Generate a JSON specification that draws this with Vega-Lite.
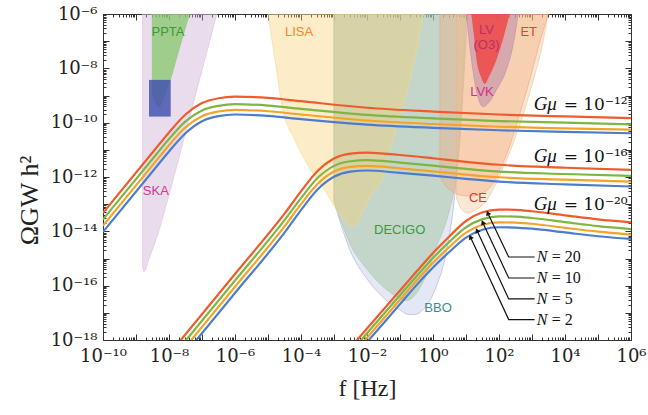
{
"$schema": "https://vega.github.io/schema/vega-lite/v6.json",
"width": 528, "height": 326, "autosize": "none",
"padding": {"left": 103, "top": 14, "right": 17, "bottom": 75},
"config": {"view": {"stroke": "#333", "strokeWidth": 1}, "axis": {"domain": false, "grid": false, "tickColor": "#333", "labelFont": "DejaVu Serif", "titleFont": "Liberation Serif", "titleFontWeight": "normal", "labelColor": "#222", "titleColor": "#222"}},
"datasets": {
"strings": [
{"g":"a","f":1e-10,"n20":4.786e-14,"n10":2.754e-14,"n5":1.622e-14,"n2":9.550e-15},
{"g":"a","f":3.162e-9,"n20":7.943e-12,"n10":4.571e-12,"n5":2.692e-12,"n2":1.585e-12},
{"g":"a","f":1e-8,"n20":4.365e-11,"n10":2.512e-11,"n5":1.479e-11,"n2":8.710e-12},
{"g":"a","f":3.162e-8,"n20":1.995e-10,"n10":1.122e-10,"n5":6.761e-11,"n2":4.074e-11},
{"g":"a","f":1e-7,"n20":5.248e-10,"n10":2.818e-10,"n5":1.738e-10,"n2":1.122e-10},
{"g":"a","f":3.162e-7,"n20":7.943e-10,"n10":4.169e-10,"n5":2.570e-10,"n2":1.738e-10},
{"g":"a","f":1e-6,"n20":9.120e-10,"n10":4.786e-10,"n5":2.951e-10,"n2":1.995e-10},
{"g":"a","f":1e-5,"n20":8.128e-10,"n10":4.266e-10,"n5":2.630e-10,"n2":1.778e-10},
{"g":"a","f":1e-4,"n20":6.166e-10,"n10":3.236e-10,"n5":1.995e-10,"n2":1.349e-10},
{"g":"a","f":1e-2,"n20":3.548e-10,"n10":1.950e-10,"n5":1.202e-10,"n2":8.511e-11},
{"g":"a","f":1,"n20":2.570e-10,"n10":1.445e-10,"n5":8.913e-11,"n2":6.457e-11},
{"g":"a","f":100,"n20":1.995e-10,"n10":1.148e-10,"n5":7.079e-11,"n2":5.248e-11},
{"g":"a","f":1e4,"n20":1.698e-10,"n10":1.000e-10,"n5":6.166e-11,"n2":4.571e-11},
{"g":"a","f":1e6,"n20":1.479e-10,"n10":8.710e-11,"n5":5.495e-11,"n2":4.074e-11},
{"g":"b","f":1e-8,"n20":2.951e-19,"n10":1.698e-19,"n5":1.0e-19,"n2":5.888e-20},
{"g":"b","f":1e-6,"n20":2.692e-16,"n10":1.549e-16,"n5":9.120e-17,"n2":5.370e-17},
{"g":"b","f":3.162e-5,"n20":4.467e-14,"n10":2.570e-14,"n5":1.514e-14,"n2":8.913e-15},
{"g":"b","f":1e-4,"n20":2.951e-13,"n10":1.660e-13,"n5":1.0e-13,"n2":6.026e-14},
{"g":"b","f":3.162e-4,"n20":1.660e-12,"n10":9.12e-13,"n5":5.495e-13,"n2":3.467e-13},
{"g":"b","f":1e-3,"n20":4.786e-12,"n10":2.570e-12,"n5":1.585e-12,"n2":1.023e-12},
{"g":"b","f":3.162e-3,"n20":7.244e-12,"n10":3.802e-12,"n5":2.344e-12,"n2":1.585e-12},
{"g":"b","f":1e-2,"n20":7.943e-12,"n10":4.169e-12,"n5":2.570e-12,"n2":1.738e-12},
{"g":"b","f":0.1,"n20":6.457e-12,"n10":3.388e-12,"n5":2.089e-12,"n2":1.413e-12},
{"g":"b","f":1,"n20":4.898e-12,"n10":2.630e-12,"n5":1.622e-12,"n2":1.122e-12},
{"g":"b","f":10,"n20":3.631e-12,"n10":1.995e-12,"n5":1.230e-12,"n2":8.511e-13},
{"g":"b","f":100,"n20":2.818e-12,"n10":1.585e-12,"n5":9.772e-13,"n2":6.761e-13},
{"g":"b","f":1e4,"n20":2.188e-12,"n10":1.288e-12,"n5":7.943e-13,"n2":5.370e-13},
{"g":"b","f":1e6,"n20":1.820e-12,"n10":1.096e-12,"n5":6.761e-13,"n2":4.467e-13},
{"g":"c","f":1e-3,"n20":1.047e-19,"n10":7.079e-20,"n5":4.786e-20,"n2":3.311e-20},
{"g":"c","f":1e-2,"n20":2.630e-18,"n10":1.778e-18,"n5":1.202e-18,"n2":8.318e-19},
{"g":"c","f":0.1,"n20":6.607e-17,"n10":4.467e-17,"n5":3.020e-17,"n2":2.089e-17},
{"g":"c","f":0.3162,"n20":3.311e-16,"n10":2.239e-16,"n5":1.514e-16,"n2":1.047e-16},
{"g":"c","f":1,"n20":1.585e-15,"n10":1.047e-15,"n5":6.918e-16,"n2":4.677e-16},
{"g":"c","f":3.162,"n20":6.607e-15,"n10":4.169e-15,"n5":2.692e-15,"n2":1.778e-15},
{"g":"c","f":10,"n20":2.399e-14,"n10":1.413e-14,"n5":8.913e-15,"n2":5.888e-15},
{"g":"c","f":31.62,"n20":5.012e-14,"n10":2.818e-14,"n5":1.738e-14,"n2":1.148e-14},
{"g":"c","f":100,"n20":6.310e-14,"n10":3.548e-14,"n5":2.138e-14,"n2":1.413e-14},
{"g":"c","f":316.2,"n20":6.166e-14,"n10":3.467e-14,"n5":2.089e-14,"n2":1.380e-14},
{"g":"c","f":1000,"n20":5.495e-14,"n10":3.090e-14,"n5":1.905e-14,"n2":1.259e-14},
{"g":"c","f":1e4,"n20":3.890e-14,"n10":2.188e-14,"n5":1.349e-14,"n2":9.120e-15},
{"g":"c","f":1e5,"n20":2.754e-14,"n10":1.549e-14,"n5":9.772e-15,"n2":6.607e-15},
{"g":"c","f":1e6,"n20":2.138e-14,"n10":1.202e-14,"n5":7.586e-15,"n2":5.248e-15}
],
"regions": [
{"r":"SKA","f":1.585e-9,"lo":5.012e-16},{"r":"SKA","f":1.738e-9,"lo":3.311e-16},{"r":"SKA","f":1.995e-9,"lo":4.467e-16},{"r":"SKA","f":2.512e-9,"lo":1e-15},{"r":"SKA","f":3.548e-9,"lo":3.162e-15},{"r":"SKA","f":5.012e-9,"lo":1.122e-14},{"r":"SKA","f":9.120e-9,"lo":1.445e-13},{"r":"SKA","f":3.162e-8,"lo":4.266e-11},{"r":"SKA","f":1e-7,"lo":8.511e-9},{"r":"SKA","f":2.818e-7,"lo":1e-6},
{"r":"PPTA","f":3.020e-9,"lo":1.259e-9},{"r":"PPTA","f":3.548e-9,"lo":7.079e-10},{"r":"PPTA","f":4.169e-9,"lo":4.467e-10},{"r":"PPTA","f":5.129e-9,"lo":3.802e-10},{"r":"PPTA","f":6.310e-9,"lo":5.623e-10},{"r":"PPTA","f":7.943e-9,"lo":1.122e-9},{"r":"PPTA","f":1.122e-8,"lo":3.715e-9},{"r":"PPTA","f":2.239e-8,"lo":6.761e-8},{"r":"PPTA","f":4.266e-8,"lo":1e-6},
{"r":"LISA","f":1e-5,"lo":1e-6},{"r":"LISA","f":1.585e-5,"lo":2.512e-8},{"r":"LISA","f":2.818e-5,"lo":2.951e-10},{"r":"LISA","f":6.310e-5,"lo":2.512e-11},{"r":"LISA","f":1.288e-4,"lo":4.266e-12},{"r":"LISA","f":3.162e-4,"lo":7.943e-13},{"r":"LISA","f":5.888e-4,"lo":2.570e-13},{"r":"LISA","f":1.479e-3,"lo":4.074e-14},{"r":"LISA","f":2.239e-3,"lo":2.239e-14},{"r":"LISA","f":3.162e-3,"lo":1.585e-14},{"r":"LISA","f":5.012e-3,"lo":1.995e-14},{"r":"LISA","f":7.586e-3,"lo":5.623e-14},{"r":"LISA","f":1.259e-2,"lo":1.905e-13},{"r":"LISA","f":3.020e-2,"lo":1.047e-12},{"r":"LISA","f":6.310e-2,"lo":3.162e-11},{"r":"LISA","f":0.1549,"lo":1.202e-9},{"r":"LISA","f":0.3162,"lo":5.012e-8},{"r":"LISA","f":0.5012,"lo":7.943e-7},{"r":"LISA","f":0.537,"lo":1e-6},
{"r":"BBO","f":1e-3,"lo":1.259e-13},{"r":"BBO","f":1.778e-3,"lo":1.259e-14},{"r":"BBO","f":3.020e-3,"lo":2.089e-15},{"r":"BBO","f":1e-2,"lo":1.778e-16},{"r":"BBO","f":4.898e-2,"lo":2.291e-17},{"r":"BBO","f":0.1,"lo":1.259e-17},{"r":"BBO","f":0.195,"lo":8.511e-18},{"r":"BBO","f":0.3162,"lo":8.913e-18},{"r":"BBO","f":0.5012,"lo":1.318e-17},{"r":"BBO","f":1.259,"lo":9.333e-17},{"r":"BBO","f":2.512,"lo":1.585e-15},{"r":"BBO","f":3.981,"lo":5.012e-14},{"r":"BBO","f":5.623,"lo":3.162e-12},{"r":"BBO","f":7.943,"lo":1e-9},{"r":"BBO","f":11.22,"lo":1e-6},
{"r":"DECIGO","f":1e-3,"lo":1.445e-13},{"r":"DECIGO","f":1.778e-3,"lo":1.778e-14},{"r":"DECIGO","f":3.020e-3,"lo":3.631e-15},{"r":"DECIGO","f":1e-2,"lo":3.981e-16},{"r":"DECIGO","f":3.020e-2,"lo":9.333e-17},{"r":"DECIGO","f":7.943e-2,"lo":3.981e-17},{"r":"DECIGO","f":0.1549,"lo":2.818e-17},{"r":"DECIGO","f":0.2818,"lo":4.467e-17},{"r":"DECIGO","f":0.631,"lo":2.512e-16},{"r":"DECIGO","f":1.259,"lo":2.512e-15},{"r":"DECIGO","f":3.162,"lo":6.310e-14},{"r":"DECIGO","f":5.012,"lo":1e-12},{"r":"DECIGO","f":7.079,"lo":1e-10},{"r":"DECIGO","f":10,"lo":1e-6},
{"r":"CE","f":5.2,"lo":1.585e-13},{"r":"CE","f":7.0,"lo":7.079e-14},{"r":"CE","f":11.22,"lo":4.786e-14},{"r":"CE","f":20,"lo":6.310e-14},{"r":"CE","f":40,"lo":1.259e-13},{"r":"CE","f":100,"lo":1e-12},{"r":"CE","f":300,"lo":2.512e-11},{"r":"CE","f":1000,"lo":2.512e-9},{"r":"CE","f":2500,"lo":2.512e-7},{"r":"CE","f":3000,"lo":1e-6},
{"r":"ET","f":1.62,"lo":1e-12},{"r":"ET","f":2.5,"lo":4.467e-13},{"r":"ET","f":4.0,"lo":2.818e-13},{"r":"ET","f":8.0,"lo":2.089e-13},{"r":"ET","f":15,"lo":1.995e-13},{"r":"ET","f":30,"lo":2.512e-13},{"r":"ET","f":52.48,"lo":3.981e-13},{"r":"ET","f":100,"lo":1.585e-12},{"r":"ET","f":208.9,"lo":1.318e-11},{"r":"ET","f":398.1,"lo":1.585e-10},{"r":"ET","f":851.1,"lo":3.715e-9},{"r":"ET","f":1585,"lo":6.310e-8},{"r":"ET","f":3090,"lo":1e-6},
{"r":"LVK","f":10.23,"lo":1e-6},{"r":"LVK","f":15.85,"lo":1e-8},{"r":"LVK","f":22.39,"lo":1e-9},{"r":"LVK","f":33.11,"lo":3.890e-10},{"r":"LVK","f":50.12,"lo":5.623e-10},{"r":"LVK","f":83.18,"lo":1.585e-9},{"r":"LVK","f":166,"lo":8.710e-9},{"r":"LVK","f":281.8,"lo":1e-7},{"r":"LVK","f":380.2,"lo":1e-6},
{"r":"LV","f":14.45,"lo":1e-6},{"r":"LV","f":17.78,"lo":1.259e-7},{"r":"LV","f":20.89,"lo":2.042e-8},{"r":"LV","f":28.18,"lo":5.012e-9},{"r":"LV","f":37.15,"lo":2.692e-9},{"r":"LV","f":50.12,"lo":5.012e-9},{"r":"LV","f":83.18,"lo":2.042e-8},{"r":"LV","f":141.3,"lo":1.585e-7},{"r":"LV","f":208.9,"lo":1e-6}
],
"box": [{"f1":2.477e-9,"f2":1.127e-8,"o1":1.675e-10,"o2":3.75e-9}],
"arrows": [
{"N":"20","f":1202,"o":1.135e-15},{"N":"20","f":196.8,"o":1.135e-15},{"N":"20","f":45.5,"o":4.71e-14},
{"N":"10","f":1202,"o":1.919e-16},{"N":"10","f":196.8,"o":1.919e-16},{"N":"10","f":32.1,"o":2.12e-14},
{"N":"5","f":1202,"o":3.243e-17},{"N":"5","f":196.8,"o":3.243e-17},{"N":"5","f":21.5,"o":1.079e-14},
{"N":"2","f":1202,"o":5.623e-18},{"N":"2","f":196.8,"o":5.623e-18},{"N":"2","f":13.6,"o":6.166e-15}
],
"tips": [{"f":45.5,"o":4.71e-14},{"f":32.1,"o":2.12e-14},{"f":21.5,"o":1.079e-14},{"f":13.6,"o":6.166e-15}],
"nlabels": [{"k":"= 20","f":1400,"o":1.135e-15},{"k":"= 10","f":1400,"o":1.919e-16},{"k":"= 5","f":1400,"o":3.243e-17},{"k":"= 2","f":1400,"o":5.623e-18}],
"glabels": [{"k":"= 10⁻¹²","f":1122,"o":2.95e-10},{"k":"= 10⁻¹⁶","f":1122,"o":3.72e-12},{"k":"= 10⁻²⁰","f":1122,"o":6.17e-14}],
"rlabels": [
{"t":"PPTA","f":9.33e-9,"o":2.24e-7},{"t":"SKA","f":3.98e-9,"o":2.95e-13},{"t":"LISA","f":8.7e-5,"o":2.24e-7},{"t":"LV","f":41.7,"o":2.6e-7},{"t":"(O3)","f":41.7,"o":7.0e-8},{"t":"ET","f":794,"o":2.24e-7},{"t":"LVK","f":30.5,"o":1.39e-9},{"t":"CE","f":23.1,"o":1.66e-13},{"t":"DECIGO","f":0.0977,"o":1.148e-14},{"t":"BBO","f":1.42,"o":1.51e-17}
]
},
"layer": [
{"data": {"name": "regions"}, "transform": [{"filter": "datum.r === 'SKA'"}],
 "mark": {"type": "area", "fill": "#c9a8d3", "fillOpacity": 0.4, "stroke": "#d8bfe0", "strokeWidth": 0.6, "clip": true, "interpolate": "monotone"},
 "encoding": {
  "x": {"field": "f", "type": "quantitative", "scale": {"type": "log", "domain": [1e-10, 1e6], "nice": false},
   "axis": {"orient": "bottom", "values": [1e-10, 1e-8, 1e-6, 1e-4, 1e-2, 1, 100, 1e4, 1e6], "ticks": false, "labelPadding": 7, "labelFontSize": 18, "labelFlush": false, "labelOverlap": false, "title": "f [Hz]", "titleFontSize": 24, "titlePadding": 11,
    "labelExpr": "'10' + replace(replace(replace(replace(replace(replace(replace(replace(replace(replace(replace('' + round(log(datum.value)/LN10), '-', '⁻'), regexp('0','g'), '⁰'), regexp('1','g'), '¹'), regexp('2','g'), '²'), regexp('3','g'), '³'), regexp('4','g'), '⁴'), regexp('5','g'), '⁵'), regexp('6','g'), '⁶'), regexp('7','g'), '⁷'), regexp('8','g'), '⁸'), regexp('9','g'), '⁹')"}},
  "y": {"field": "lo", "type": "quantitative", "scale": {"type": "log", "domain": [1e-18, 1e-6], "nice": false},
   "axis": {"orient": "left", "values": [1e-18, 1e-16, 1e-14, 1e-12, 1e-10, 1e-8, 1e-6], "ticks": false, "labelPadding": 6, "labelFontSize": 18, "labelFlush": false, "labelOverlap": false, "title": "ΩGW h²", "titleFontSize": 26, "titleX": -74, "titleY": 186, "titleAngle": -90, "titleAlign": "center", "titleBaseline": "middle",
    "labelExpr": "'10' + replace(replace(replace(replace(replace(replace(replace(replace(replace(replace(replace('' + round(log(datum.value)/LN10), '-', '⁻'), regexp('0','g'), '⁰'), regexp('1','g'), '¹'), regexp('2','g'), '²'), regexp('3','g'), '³'), regexp('4','g'), '⁴'), regexp('5','g'), '⁵'), regexp('6','g'), '⁶'), regexp('7','g'), '⁷'), regexp('8','g'), '⁸'), regexp('9','g'), '⁹')"}},
  "y2": {"datum": 1e-6}}},
{"data": {"name": "regions"}, "transform": [{"filter": "datum.r === 'PPTA'"}],
 "mark": {"type": "area", "fill": "#86c86a", "fillOpacity": 0.75, "clip": true, "interpolate": "monotone"},
 "encoding": {
  "x": {"field": "f", "type": "quantitative", "scale": {"type": "log", "domain": [1e-10, 1e6], "nice": false},
   "axis": {"orient": "bottom", "values": [1e-10,1e-9,1e-8,1e-7,1e-6,1e-5,1e-4,1e-3,1e-2,1e-1,1,10,100,1e3,1e4,1e5,1e6], "labels": false, "tickSize": -6, "title": null}},
  "y": {"field": "lo", "type": "quantitative", "scale": {"type": "log", "domain": [1e-18, 1e-6], "nice": false},
   "axis": {"orient": "left", "values": [1e-18,1e-17,1e-16,1e-15,1e-14,1e-13,1e-12,1e-11,1e-10,1e-9,1e-8,1e-7,1e-6], "labels": false, "tickSize": -6, "title": null}},
  "y2": {"datum": 1e-6}}},
{"data": {"name": "box"},
 "mark": {"type": "rect", "fill": "#3f4fb0", "fillOpacity": 0.82, "clip": true},
 "encoding": {
  "x": {"field": "f1", "type": "quantitative", "scale": {"type": "log", "domain": [1e-10, 1e6], "nice": false},
   "axis": {"orient": "bottom", "tickCount": 40, "labels": false, "tickSize": -3, "title": null}},
  "x2": {"field": "f2"},
  "y": {"field": "o1", "type": "quantitative", "scale": {"type": "log", "domain": [1e-18, 1e-6], "nice": false},
   "axis": {"orient": "left", "tickCount": 40, "labels": false, "tickSize": -3, "title": null}},
  "y2": {"field": "o2"}}},
{"data": {"name": "regions"}, "transform": [{"filter": "datum.r === 'BBO'"}],
 "mark": {"type": "area", "fill": "#bcc5e6", "fillOpacity": 0.4, "stroke": "#a4b0d8", "strokeWidth": 0.6, "clip": true, "interpolate": "monotone"},
 "encoding": {
  "x": {"field": "f", "type": "quantitative", "scale": {"type": "log", "domain": [1e-10, 1e6], "nice": false},
   "axis": {"orient": "top", "values": [1e-10,1e-9,1e-8,1e-7,1e-6,1e-5,1e-4,1e-3,1e-2,1e-1,1,10,100,1e3,1e4,1e5,1e6], "labels": false, "tickSize": -6, "title": null}},
  "y": {"field": "lo", "type": "quantitative", "scale": {"type": "log", "domain": [1e-18, 1e-6], "nice": false},
   "axis": {"orient": "right", "values": [1e-18,1e-17,1e-16,1e-15,1e-14,1e-13,1e-12,1e-11,1e-10,1e-9,1e-8,1e-7,1e-6], "labels": false, "tickSize": -6, "title": null}},
  "y2": {"datum": 1e-6}}},
{"data": {"name": "regions"}, "transform": [{"filter": "datum.r === 'DECIGO'"}],
 "mark": {"type": "area", "fill": "#a3c49f", "fillOpacity": 0.5, "stroke": "#a9c6a2", "strokeWidth": 0.6, "clip": true, "interpolate": "monotone"},
 "encoding": {
  "x": {"field": "f", "type": "quantitative", "scale": {"type": "log", "domain": [1e-10, 1e6], "nice": false},
   "axis": {"orient": "top", "tickCount": 40, "labels": false, "tickSize": -3, "title": null}},
  "y": {"field": "lo", "type": "quantitative", "scale": {"type": "log", "domain": [1e-18, 1e-6], "nice": false},
   "axis": {"orient": "right", "tickCount": 40, "labels": false, "tickSize": -3, "title": null}},
  "y2": {"datum": 1e-6}}},
{"data": {"name": "regions"}, "transform": [{"filter": "datum.r === 'LISA'"}],
 "mark": {"type": "area", "fill": "#f7cf6e", "fillOpacity": 0.38, "stroke": "#f5d690", "strokeWidth": 0.6, "clip": true, "interpolate": "monotone"},
 "encoding": {"x": {"field": "f", "type": "quantitative", "scale": {"type": "log", "domain": [1e-10, 1e6], "nice": false}, "axis": null},
  "y": {"field": "lo", "type": "quantitative", "scale": {"type": "log", "domain": [1e-18, 1e-6], "nice": false}, "axis": null}, "y2": {"datum": 1e-6}}},
{"data": {"name": "regions"}, "transform": [{"filter": "datum.r === 'CE'"}],
 "mark": {"type": "area", "fill": "#f0c898", "fillOpacity": 0.42, "stroke": "#ecbf90", "strokeWidth": 0.6, "clip": true, "interpolate": "monotone"},
 "encoding": {"x": {"field": "f", "type": "quantitative", "scale": {"type": "log", "domain": [1e-10, 1e6], "nice": false}, "axis": null},
  "y": {"field": "lo", "type": "quantitative", "scale": {"type": "log", "domain": [1e-18, 1e-6], "nice": false}, "axis": null}, "y2": {"datum": 1e-6}}},
{"data": {"name": "regions"}, "transform": [{"filter": "datum.r === 'ET'"}],
 "mark": {"type": "area", "fill": "#f5a77a", "fillOpacity": 0.38, "stroke": "#f1a27e", "strokeWidth": 0.6, "clip": true, "interpolate": "monotone"},
 "encoding": {"x": {"field": "f", "type": "quantitative", "scale": {"type": "log", "domain": [1e-10, 1e6], "nice": false}, "axis": null},
  "y": {"field": "lo", "type": "quantitative", "scale": {"type": "log", "domain": [1e-18, 1e-6], "nice": false}, "axis": null}, "y2": {"datum": 1e-6}}},
{"data": {"name": "regions"}, "transform": [{"filter": "datum.r === 'LVK'"}],
 "mark": {"type": "area", "fill": "#b07aa8", "fillOpacity": 0.45, "stroke": "#b98fb0", "strokeWidth": 0.6, "clip": true, "interpolate": "monotone"},
 "encoding": {"x": {"field": "f", "type": "quantitative", "scale": {"type": "log", "domain": [1e-10, 1e6], "nice": false}, "axis": null},
  "y": {"field": "lo", "type": "quantitative", "scale": {"type": "log", "domain": [1e-18, 1e-6], "nice": false}, "axis": null}, "y2": {"datum": 1e-6}}},
{"data": {"name": "regions"}, "transform": [{"filter": "datum.r === 'LV'"}],
 "mark": {"type": "area", "fill": "#f04848", "fillOpacity": 0.85, "clip": true, "interpolate": "monotone"},
 "encoding": {"x": {"field": "f", "type": "quantitative", "scale": {"type": "log", "domain": [1e-10, 1e6], "nice": false}, "axis": null},
  "y": {"field": "lo", "type": "quantitative", "scale": {"type": "log", "domain": [1e-18, 1e-6], "nice": false}, "axis": null}, "y2": {"datum": 1e-6}}},
{"data": {"name": "strings"}, "transform": [{"fold": ["n2", "n5", "n10", "n20"], "as": ["N", "o"]}],
 "mark": {"type": "line", "strokeWidth": 2.2, "clip": true, "interpolate": "monotone"},
 "encoding": {"x": {"field": "f", "type": "quantitative", "scale": {"type": "log", "domain": [1e-10, 1e6], "nice": false}, "axis": null},
  "y": {"field": "o", "type": "quantitative", "scale": {"type": "log", "domain": [1e-18, 1e-6], "nice": false}, "axis": null},
  "color": {"field": "N", "type": "nominal", "scale": {"domain": ["n20", "n10", "n5", "n2"], "range": ["#ef5b2b", "#7fb543", "#f2a42a", "#4d7ccc"]}, "legend": null},
  "detail": {"field": "g"}}},
{"data": {"name": "arrows"},
 "mark": {"type": "line", "stroke": "#111", "strokeWidth": 1.2, "clip": true},
 "encoding": {"x": {"field": "f", "type": "quantitative", "scale": {"type": "log", "domain": [1e-10, 1e6], "nice": false}, "axis": null},
  "y": {"field": "o", "type": "quantitative", "scale": {"type": "log", "domain": [1e-18, 1e-6], "nice": false}, "axis": null},
  "detail": {"field": "N"}}},
{"data": {"name": "tips"},
 "mark": {"type": "point", "shape": "triangle-up", "angle": 335, "size": 30, "filled": true, "color": "#111", "opacity": 1},
 "encoding": {"x": {"field": "f", "type": "quantitative", "scale": {"type": "log", "domain": [1e-10, 1e6], "nice": false}, "axis": null},
  "y": {"field": "o", "type": "quantitative", "scale": {"type": "log", "domain": [1e-18, 1e-6], "nice": false}, "axis": null}}},
{"data": {"name": "rlabels"},
 "mark": {"type": "text", "font": "Liberation Sans", "fontSize": 13, "align": "center", "baseline": "middle"},
 "encoding": {"x": {"field": "f", "type": "quantitative", "scale": {"type": "log", "domain": [1e-10, 1e6], "nice": false}, "axis": null},
  "y": {"field": "o", "type": "quantitative", "scale": {"type": "log", "domain": [1e-18, 1e-6], "nice": false}, "axis": null},
  "text": {"field": "t"},
  "color": {"field": "t", "type": "nominal", "scale": {"domain": ["PPTA", "SKA", "LISA", "LV", "(O3)", "ET", "LVK", "CE", "DECIGO", "BBO"], "range": ["#3c9a35", "#d9338c", "#f5862a", "#b83068", "#b83068", "#e2432f", "#d12f8f", "#d93a35", "#3c9a3c", "#3b8f86"]}, "legend": null}}},
{"data": {"name": "glabels"},
 "mark": {"type": "text", "font": "Liberation Serif", "fontStyle": "italic", "fontSize": 19, "align": "left", "baseline": "alphabetic", "color": "#111"},
 "encoding": {"x": {"field": "f", "type": "quantitative", "scale": {"type": "log", "domain": [1e-10, 1e6], "nice": false}, "axis": null},
  "y": {"field": "o", "type": "quantitative", "scale": {"type": "log", "domain": [1e-18, 1e-6], "nice": false}, "axis": null},
  "text": {"value": "Gμ"}}},
{"data": {"name": "glabels"},
 "mark": {"type": "text", "font": "DejaVu Serif", "fontSize": 17, "align": "left", "baseline": "alphabetic", "dx": 30, "color": "#111"},
 "encoding": {"x": {"field": "f", "type": "quantitative", "scale": {"type": "log", "domain": [1e-10, 1e6], "nice": false}, "axis": null},
  "y": {"field": "o", "type": "quantitative", "scale": {"type": "log", "domain": [1e-18, 1e-6], "nice": false}, "axis": null},
  "text": {"field": "k"}}},
{"data": {"name": "nlabels"},
 "mark": {"type": "text", "font": "Liberation Serif", "fontStyle": "italic", "fontSize": 16, "align": "left", "baseline": "middle", "color": "#111"},
 "encoding": {"x": {"field": "f", "type": "quantitative", "scale": {"type": "log", "domain": [1e-10, 1e6], "nice": false}, "axis": null},
  "y": {"field": "o", "type": "quantitative", "scale": {"type": "log", "domain": [1e-18, 1e-6], "nice": false}, "axis": null},
  "text": {"value": "N"}}},
{"data": {"name": "nlabels"},
 "mark": {"type": "text", "font": "Liberation Serif", "fontSize": 16, "align": "left", "baseline": "middle", "dx": 15, "color": "#111"},
 "encoding": {"x": {"field": "f", "type": "quantitative", "scale": {"type": "log", "domain": [1e-10, 1e6], "nice": false}, "axis": null},
  "y": {"field": "o", "type": "quantitative", "scale": {"type": "log", "domain": [1e-18, 1e-6], "nice": false}, "axis": null},
  "text": {"field": "k"}}}
],
"resolve": {"scale": {"x": "shared", "y": "shared", "color": "independent"}, "axis": {"x": "independent", "y": "independent"}}
}
